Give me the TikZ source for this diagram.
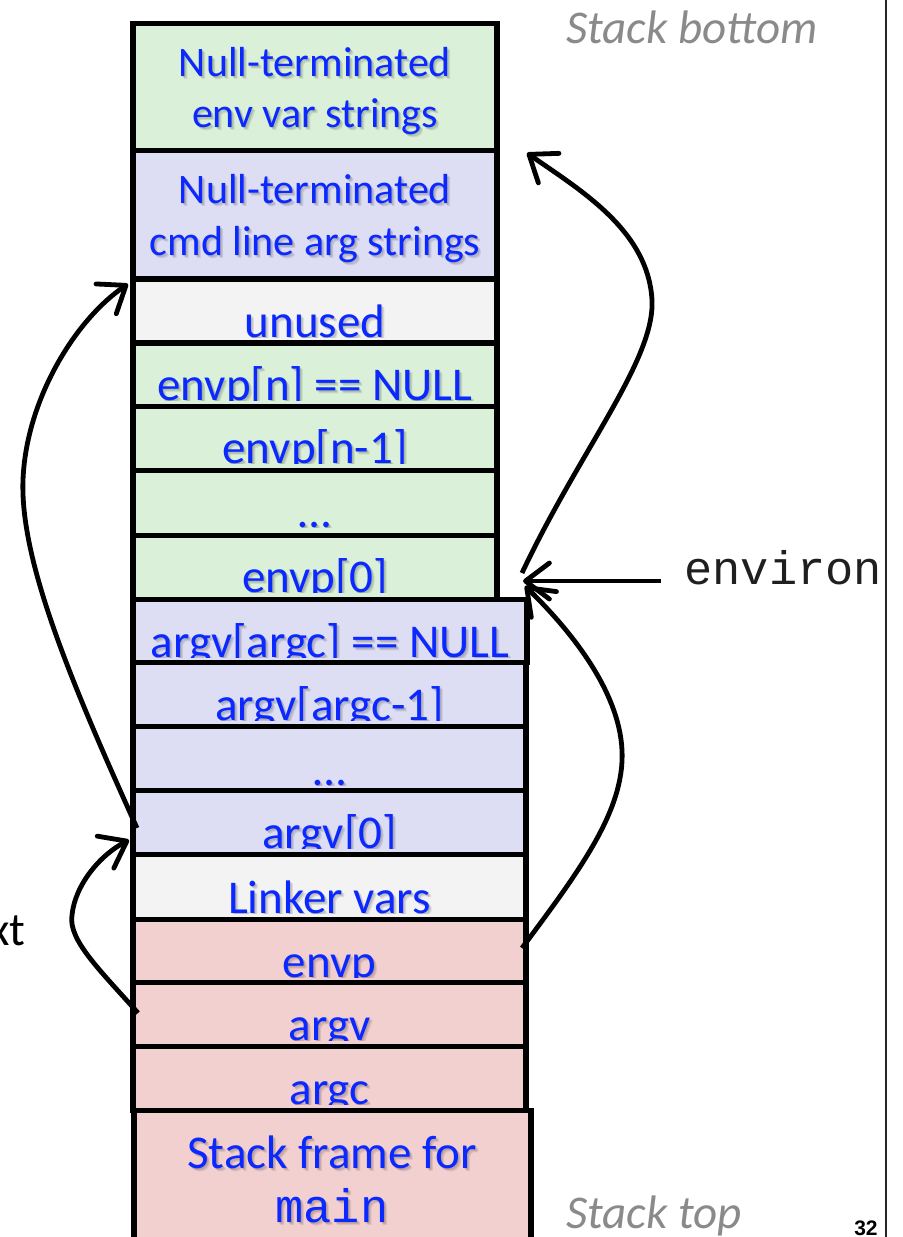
\documentclass[tikz,border=0pt]{standalone}
\usepackage{fontspec}
\setmainfont{Carlito}
\newfontfamily\codefont{Liberation Mono}
\newfontfamily\numfont{Liberation Sans}
\usetikzlibrary{arrows.meta}

\definecolor{envgreen}{RGB}{218,240,216}
\definecolor{arglav}{RGB}{221,221,244}
\definecolor{unusedgray}{RGB}{243,243,243}
\definecolor{framepink}{RGB}{242,208,207}
\definecolor{labelblue}{RGB}{10,40,255}
\definecolor{notegray}{RGB}{138,138,138}

\tikzset{
  cell/.style={draw=black, line width=2.8pt},
  lbl/.style={anchor=base, inner sep=0pt, text=labelblue, font=\fontsize{23.5}{28}\selectfont},
  smalllbl/.style={lbl, font=\fontsize{21}{25}\selectfont},
  codelbl/.style={lbl, font=\codefont\fontsize{23.5}{28}\selectfont},
  shade/.style={text=black, text opacity=0.09},
  note/.style={anchor=base west, inner sep=0pt, text=notegray, font=\itshape\fontsize{23.5}{28}\selectfont},
  ptr/.style={line width=2.4pt, -{Straight Barb[length=12pt,width=18pt,round]}}
}

% soft drop shadow behind a label: #1 style, #2 position, #3 text
\newcommand\shadowtext[3]{%
  \foreach \d in {1,2,3}{\node[#1, shade] at ($#2+(\d,\d)$) {#3};}}

% one stack slot whose label is cut off just below its baseline
% #1 fill, #2 top, #3 bottom, #4 right edge, #5 node name, #6 label centre x, #7 baseline, #8 text
\newcommand\slot[8]{%
  \path[cell, fill=#1] (133,#2) rectangle (#4,#3);
  \begin{scope}
    \clip (136,#2) rectangle (#4-3,#7+0.8);
    \shadowtext{lbl}{(#6,#7)}{#8}
    \node[lbl] (#5) at (#6,#7) {#8};
  \end{scope}}

\usetikzlibrary{calc}

\begin{document}
\begin{tikzpicture}[x=0.5pt, y=-0.5pt]
\useasboundingbox (0,0) rectangle (903,1237);

% stack cells, drawn from the stack bottom downwards
\path[cell, fill=envgreen] (133,23.5) rectangle (497,150.5);
\shadowtext{smalllbl}{(315,76)}{Null-terminated}
\shadowtext{smalllbl}{(315,127)}{env var strings}
\node[smalllbl] (envstr1) at (315,76) {Null-terminated};
\node[smalllbl] (envstr2) at (315,127) {env var strings};

\path[cell, fill=arglav] (133,150.5) rectangle (497,279);
\shadowtext{smalllbl}{(315,203)}{Null-terminated}
\shadowtext{smalllbl}{(315,255)}{cmd line arg strings}
\node[smalllbl] (argstr1) at (315,203) {Null-terminated};
\node[smalllbl] (argstr2) at (315,255) {cmd line arg strings};

\slot{unusedgray}{279}{343}{497}{unused}{315}{337}{unused}
\slot{envgreen}{343}{406.5}{497}{envpn}{315}{400}{envp[n] == NULL}
\slot{envgreen}{406.5}{470.5}{497}{envpn1}{315}{463}{envp[n-1]}
\slot{envgreen}{470.5}{535.5}{497}{envpdots}{315}{527}{…}
\slot{envgreen}{535.5}{599.5}{497}{envp0}{315}{592}{envp[0]}
\slot{arglav}{599.5}{662.5}{527}{argvc}{330}{657}{argv[argc] == NULL}
\slot{arglav}{662.5}{726.5}{526}{argvc1}{329.5}{720}{argv[argc-1]}
\slot{arglav}{726.5}{790.5}{526}{argvdots}{329.5}{785}{…}
\slot{arglav}{790.5}{854.5}{526}{argv0}{329.5}{848}{argv[0]}
\slot{unusedgray}{854.5}{919.5}{526}{linker}{329.5}{913}{Linker vars}
\slot{framepink}{919.5}{982.5}{526}{envpvar}{329.5}{977}{envp}
\slot{framepink}{982.5}{1046.5}{526}{argvvar}{329.5}{1040}{argv}
\slot{framepink}{1046.5}{1110.5}{526}{argcvar}{329.5}{1104}{argc}

\path[cell, fill=framepink] (134,1110.5) rectangle (531,1250);
\shadowtext{lbl}{(332,1168)}{Stack frame for}
\shadowtext{codelbl}{(332,1222)}{main}
\node[lbl] (frame1) at (332,1168) {Stack frame for};
\node[codelbl] (frame2) at (332,1222) {main};

% side notes
\node[note] (bottom) at (566,43) {Stack bottom};
\node[note] (top) at (566,1228) {Stack top};
\node[anchor=base west, inner sep=0pt, font=\codefont\fontsize{23.5}{28}\selectfont, text=black!88] (environ) at (684,584) {environ};
\node[anchor=base east, inner sep=0pt, font=\fontsize{23.5}{28}\selectfont] (ctx) at (26,945) {xt};
\node[anchor=base east, inner sep=0pt, font=\numfont\bfseries\fontsize{10.5}{12}\selectfont] (pagenum) at (878,1235) {32};
\draw[line width=1pt, black!85] (886,0) -- (886,1237);

% pointer end points
\coordinate (envp0-out) at (522,573);
\coordinate (envstr-in) at (527,153);
\coordinate (argv0-out) at (137,828);
\coordinate (argstr-in) at (128,284);
\coordinate (argvvar-out) at (138,1013);
\coordinate (argv0-in) at (129,840);
\coordinate (envpvar-out) at (522,948);
\coordinate (envp0-in) at (525,586);
\coordinate (environ-tail) at (661,581);
\coordinate (environ-tip) at (523,581);

% pointers
\draw[ptr] (envp0-out) .. controls (580,450) and (655,360) .. (652,300)
           .. controls (648,230) and (580,190) .. (envstr-in);
\draw[ptr] (argv0-out) .. controls (70,680) and (20,560) .. (23,480)
           .. controls (26,400) and (75,320) .. (argstr-in);
\draw[ptr] (argvvar-out) .. controls (100,970) and (68,940) .. (72,915)
           .. controls (75,885) and (100,855) .. (argv0-in);
\draw[ptr] (envpvar-out) .. controls (580,870) and (625,810) .. (622,750)
           .. controls (619,690) and (570,630) .. (envp0-in);
\draw[ptr] (environ-tail) -- (environ-tip);
\end{tikzpicture}
\end{document}
